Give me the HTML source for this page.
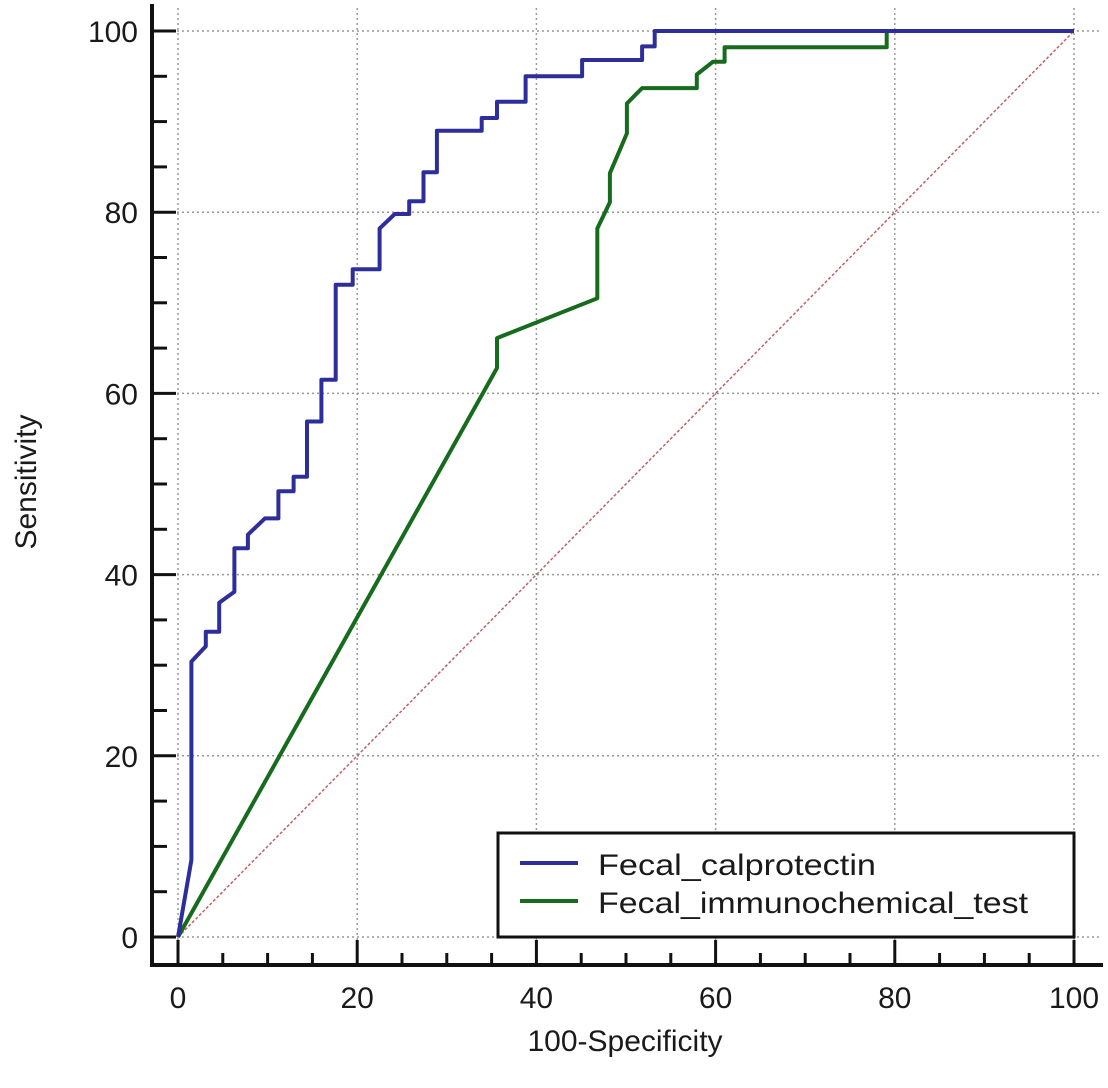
<!DOCTYPE html>
<html><head><meta charset="utf-8"><style>
html,body{margin:0;padding:0;background:#fff;}
svg{display:block;font-family:"Liberation Sans",Arial,sans-serif;}
</style></head><body>
<svg id="chart" width="1108" height="1088" viewBox="0 0 1108 1088" xmlns="http://www.w3.org/2000/svg">
<g id="grid"></g>
<g id="axes"></g>
<g id="series"></g>
<g id="legend">
  <rect x="498" y="833" width="576" height="104" fill="#fff" stroke="#111" stroke-width="3"/>
  <line x1="520" y1="863" x2="578" y2="863" stroke="#2e2e9a" stroke-width="4"/>
  <text x="598" y="875" font-size="30" fill="#1a1a1a" textLength="278" lengthAdjust="spacingAndGlyphs">Fecal_calprotectin</text>
  <line x1="520" y1="901" x2="578" y2="901" stroke="#166b1c" stroke-width="4"/>
  <text x="598" y="913" font-size="30" fill="#1a1a1a" textLength="430" lengthAdjust="spacingAndGlyphs">Fecal_immunochemical_test</text>
</g>
<text x="625" y="1051" font-size="30" text-anchor="middle" fill="#1a1a1a">100-Specificity</text>
<text transform="translate(36,482) rotate(-90)" font-size="30" text-anchor="middle" fill="#1a1a1a">Sensitivity</text>
</svg>
<script>
const xTicks = [0, 20, 40, 60, 80, 100];
const yTicks = [0, 20, 40, 60, 80, 100];
const calX = [0, 1.5, 1.5, 3.1, 3.1, 4.6, 4.6, 6.3, 6.3, 7.8, 7.8, 9.7, 11.2, 11.2, 12.9, 12.9, 14.4, 14.4, 16.0, 16.0, 17.6, 17.6, 19.5, 19.5, 22.5, 22.5, 24.2, 25.8, 25.8, 27.4, 27.4, 28.9, 28.9, 33.9, 33.9, 35.6, 35.6, 38.8, 38.8, 45.1, 45.1, 51.8, 51.8, 53.2, 53.2, 100];
const calY = [0, 8.5, 30.4, 32.1, 33.7, 33.7, 36.9, 38.1, 42.9, 42.9, 44.4, 46.2, 46.2, 49.2, 49.2, 50.8, 50.8, 56.9, 56.9, 61.5, 61.5, 72.0, 72.0, 73.7, 73.7, 78.2, 79.8, 79.8, 81.2, 81.2, 84.4, 84.4, 89.0, 89.0, 90.4, 90.4, 92.2, 92.2, 95.0, 95.0, 96.8, 96.8, 98.3, 98.3, 100, 100];
const fitX = [0, 35.6, 35.6, 46.8, 46.8, 48.2, 48.2, 50.1, 50.1, 51.8, 57.9, 57.9, 59.7, 61.0, 61.0, 79.1, 79.1, 100];
const fitY = [0, 62.8, 66.1, 70.5, 78.2, 81.1, 84.3, 88.7, 92.0, 93.7, 93.7, 95.2, 96.6, 96.6, 98.2, 98.2, 100, 100];

const NS = "http://www.w3.org/2000/svg";
const X0 = 178, X1 = 1074, Y0 = 937, Y1 = 31;
function sx(v){ return X0 + (X1 - X0) * v / 100; }
function sy(v){ return Y0 - (Y0 - Y1) * v / 100; }
function mk(tag, attrs, parent){
  const e = document.createElementNS(NS, tag);
  for (const k in attrs) e.setAttribute(k, attrs[k]);
  parent.appendChild(e);
  return e;
}
const grid = document.getElementById('grid');
const axes = document.getElementById('axes');
const series = document.getElementById('series');

xTicks.forEach(t => {
  const g = mk('line', {x1: sx(t), x2: sx(t), y1: 8, y2: 965, stroke: '#999', 'stroke-width': 1.5, 'stroke-dasharray': '2,3'}, grid);
  
  
});
yTicks.forEach(t => {
  const g = mk('line', {x1: 152, x2: 1102, y1: sy(t), y2: sy(t), stroke: '#999', 'stroke-width': 1.5, 'stroke-dasharray': '2,3'}, grid);
  
  
});

// axis lines
let a = mk('line', {x1: 152, x2: 152, y1: 4, y2: 966, stroke: '#111', 'stroke-width': 4}, axes);


a = mk('line', {x1: 150, x2: 1103, y1: 965, y2: 965, stroke: '#111', 'stroke-width': 4}, axes);



for (let v = 0; v <= 100; v += 5) {
  const major = v % 20 === 0;
  const tx = mk('line', {x1: sx(v), x2: sx(v), y1: 965, y2: major ? 940 : 953, stroke: '#111', 'stroke-width': 3}, axes);
  
  
  const ty = mk('line', {x1: 152, x2: major ? 176 : 167, y1: sy(v), y2: sy(v), stroke: '#111', 'stroke-width': 3}, axes);
  
  
}
xTicks.forEach(t => {
  const l = mk('text', {x: sx(t), y: 1008, 'font-size': 30, 'text-anchor': 'middle', fill: '#1a1a1a'}, axes);
  l.textContent = t;
  
  
});
yTicks.forEach(t => {
  const l = mk('text', {x: 138, y: sy(t) + 11, 'font-size': 30, 'text-anchor': 'end', fill: '#1a1a1a'}, axes);
  l.textContent = t;
  
  
});

// reference diagonal
const diag = mk('line', {x1: sx(0), y1: sy(0), x2: sx(100), y2: sy(100), stroke: '#c06060', 'stroke-width': 1.5, 'stroke-dasharray': '3,2'}, series);



function pts(xs, ys){ return xs.map((x, i) => sx(x).toFixed(1) + ',' + sy(ys[i]).toFixed(1)).join(' '); }
const fit = mk('polyline', {points: pts(fitX, fitY), fill: 'none', stroke: '#166b1c', 'stroke-width': 4, 'stroke-linejoin': 'round'}, series);


const cal = mk('polyline', {points: pts(calX, calY), fill: 'none', stroke: '#2e2e9a', 'stroke-width': 4, 'stroke-linejoin': 'round'}, series);


</script>
</body></html>
